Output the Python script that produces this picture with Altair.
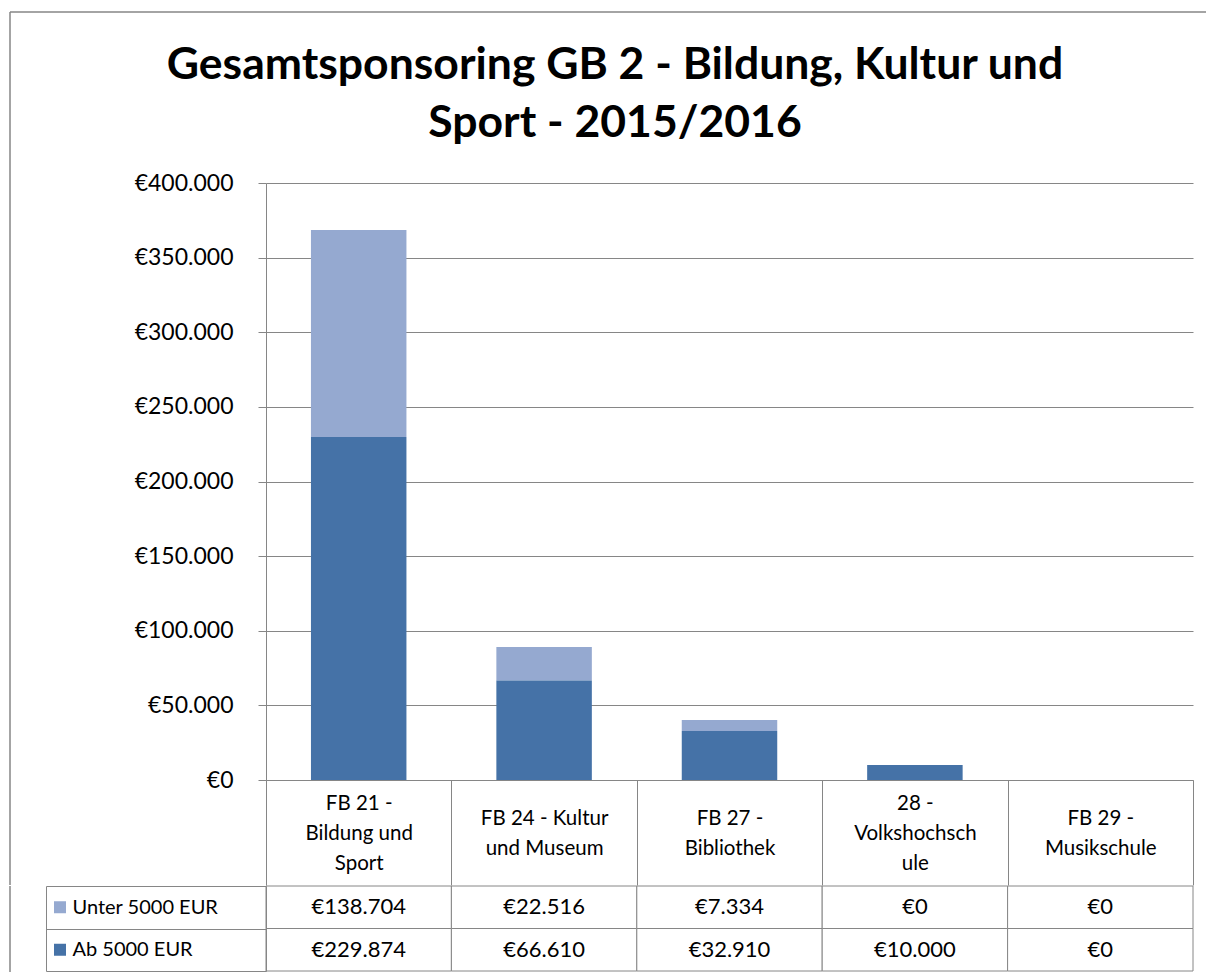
import altair as alt
import pandas as pd

# ---- data ----
categories = [
    "FB 21 -|Bildung und|Sport",
    "FB 24 - Kultur|und Museum",
    "FB 27 -|Bibliothek",
    "28 -|Volkshochsch|ule",
    "FB 29 -|Musikschule",
]
series = ["Unter 5000 EUR", "Ab 5000 EUR"]
unter_5000 = [138704, 22516, 7334, 0, 0]
ab_5000 = [229874, 66610, 32910, 10000, 0]
series_colors = ["#95A9D0", "#4572A7"]
y_ticks = [0, 50000, 100000, 150000, 200000, 250000, 300000, 350000, 400000]
title_lines = ["Gesamtsponsoring GB 2 - Bildung, Kultur und", "Sport - 2015/2016"]

GRAY = "#868686"
FONT = "Lato"


def euro(v):
    return "€" + f"{v:,}".replace(",", ".")


rows = []
for i, c in enumerate(categories):
    rows.append({"cat": c, "series": series[0], "value": unter_5000[i], "label": euro(unter_5000[i]), "ord": 1})
    rows.append({"cat": c, "series": series[1], "value": ab_5000[i], "label": euro(ab_5000[i]), "ord": 0})
df = pd.DataFrame(rows)
df_leg = pd.DataFrame({"series": series})
df_one = pd.DataFrame({"k": [0]})

color_scale = alt.Scale(domain=series, range=series_colors)
x_scale = alt.Scale(domain=categories, paddingInner=0, paddingOuter=0)
row_scale = alt.Scale(domain=series, paddingInner=0, paddingOuter=0)

# ---- bar chart; the header row of the data table is its x-axis ----
bars = alt.Chart(df).mark_bar(width={"band": 0.515}).encode(
    x=alt.X(
        "cat:N", scale=x_scale, sort=categories, title=None,
        axis=alt.Axis(
            labelExpr="split(datum.label, '|')", labelAngle=0, tickBand="extent",
            tickSize=105, tickColor=GRAY, domainColor=GRAY,
            labelBaseline={
                "condition": {"test": "length(split(datum.value, '|')) == 3", "value": "middle"},
                "value": "line-top",
            },
            labelPadding=-82, labelLineHeight=30, labelFontSize=20.5, labelColor="black",
            labelFont=FONT, zindex=1, labelLimit=185, labelOverlap=False,
        ),
    ),
    y=alt.Y(
        "value:Q", stack="zero", scale=alt.Scale(domain=[0, 400000], nice=False), title=None,
        axis=alt.Axis(
            values=y_ticks,
            labelExpr="'€' + replace(format(datum.value, ',.0f'), regexp(',', 'g'), '.')",
            grid=True, gridColor=GRAY, domainColor=GRAY, tickColor=GRAY, tickSize=8,
            labelPadding=25, minExtent=220, maxExtent=220, labelFontSize=23,
            labelFont=FONT, labelColor="black",
        ),
    ),
    color=alt.Color("series:N", scale=color_scale, legend=None),
    order=alt.Order("ord:Q"),
)

# outer chart-area frame (decoration)
frame_top = alt.Chart(df_one).mark_rule(color=GRAY, strokeWidth=1.5).encode(
    x=alt.value(-256), x2=alt.value(940), y=alt.value(-171)
)
frame_left = alt.Chart(df_one).mark_rule(color=GRAY, strokeWidth=1.5).encode(
    x=alt.value(-256), y=alt.value(-171), y2=alt.value(702)
)
top = alt.layer(bars, frame_top, frame_left).properties(width=927, height=597)

# ---- value rows of the data table (legend column drawn by y axes) ----
cell_base = alt.Chart(df).encode(
    x=alt.X("cat:N", scale=x_scale, sort=categories, axis=None),
)
cells = cell_base.mark_rect(fill="white", stroke=GRAY, strokeWidth=1).encode(
    y=alt.Y(
        "series:N", scale=row_scale, sort=series, title=None,
        axis=alt.Axis(
            labelAlign="left", labelBaseline="middle", labelPadding=-26,
            tickBand="extent", tickSize=220, tickColor=GRAY, domainColor=GRAY,
            labelFontSize=20, labelColor="black", labelFont=FONT,
            minExtent=220, maxExtent=220, labelLimit=0,
        ),
    )
)
cell_txt = cell_base.mark_text(font=FONT, fontSize=22, color="black", baseline="middle").encode(
    y=alt.Y("series:N", scale=row_scale, sort=series, axis=None),
    text="label:N",
)
swatches = alt.Chart(df_leg).mark_square(size=144, opacity=1, filled=True).encode(
    x=alt.value(-206),
    y=alt.Y(
        "series:N", scale=row_scale, sort=series, title=None,
        axis=alt.Axis(orient="left", offset=220, labels=False, ticks=False, domainColor=GRAY),
    ),
    color=alt.Color("series:N", scale=color_scale, legend=None),
)
frame_left2 = alt.Chart(df_one).mark_rule(color=GRAY, strokeWidth=1.5).encode(
    x=alt.value(-256), y=alt.value(0), y2=alt.value(90)
)
table = alt.layer(cells, cell_txt, swatches, frame_left2).resolve_axis(y="independent").properties(
    width=927, height=85
)

chart = alt.vconcat(top, table, spacing=-11).properties(
    title=alt.TitleParams(
        text=title_lines, font=FONT, fontSize=44.5, fontWeight="bold", color="black",
        lineHeight=58, anchor="start", align="center", frame="group", offset=-135, dx=349,
    ),
    padding={"left": 1, "top": 3, "right": 0, "bottom": 0},
    background="white",
).configure(font=FONT).configure_view(strokeWidth=0)

chart.save("out.html", embed_options={"renderer": "svg", "actions": False})
